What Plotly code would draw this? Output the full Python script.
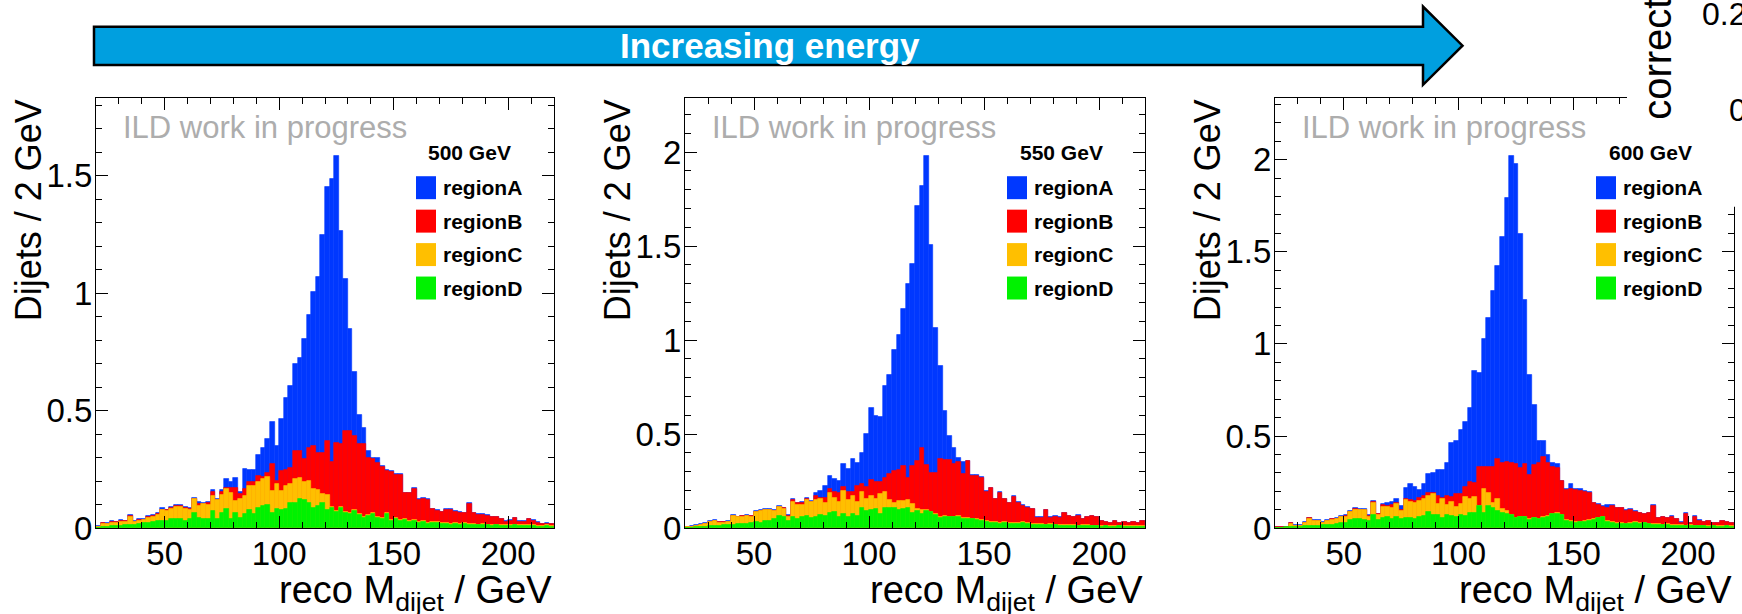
import plotly.graph_objects as go

W, H_REF = 1742, 614      # size of the reference picture
FIG_H = 632               # page height used by the viewer (it is rescaled to 614)
FONT = "Liberation Sans, Arial, Helvetica, sans-serif"

# ---------------- data (stacked tops, 2 GeV bins from 20 to 220) -------------
bin_centers = list(range(21, 220, 2))
energies = ["500 GeV", "550 GeV", "600 GeV"]
regions = ["regionA", "regionB", "regionC", "regionD"]
region_colors = ["#0038ff", "#ff0000", "#ffbf00", "#00f200"]

# 500 GeV: top of each stacked layer (A = total, B = D+C+B, C = D+C, D)
top_A_500 = [0.008, 0.024, 0.022, 0.030, 0.028, 0.037, 0.033, 0.055, 0.030, 0.040,
             0.040, 0.052, 0.058, 0.065, 0.085, 0.080, 0.090, 0.098, 0.098, 0.092,
             0.085, 0.130, 0.113, 0.108, 0.110, 0.162, 0.125, 0.162, 0.208, 0.197,
             0.215, 0.154, 0.251, 0.247, 0.248, 0.310, 0.340, 0.378, 0.452, 0.351,
             0.466, 0.554, 0.607, 0.701, 0.725, 0.806, 0.906, 1.007, 1.068, 1.246,
             1.451, 1.487, 1.585, 1.265, 1.062, 0.850, 0.666, 0.484, 0.428, 0.329,
             0.300, 0.300, 0.265, 0.250, 0.244, 0.232, 0.229, 0.152, 0.152, 0.170,
             0.123, 0.127, 0.123, 0.084, 0.076, 0.071, 0.081, 0.081, 0.074, 0.069,
             0.067, 0.106, 0.067, 0.059, 0.060, 0.055, 0.050, 0.050, 0.040, 0.030,
             0.035, 0.045, 0.030, 0.030, 0.040, 0.035, 0.025, 0.020, 0.022, 0.020]
top_B_500 = [0.006, 0.022, 0.020, 0.027, 0.025, 0.032, 0.030, 0.052, 0.027, 0.036,
             0.037, 0.048, 0.054, 0.061, 0.080, 0.076, 0.086, 0.094, 0.094, 0.087,
             0.081, 0.126, 0.105, 0.104, 0.106, 0.154, 0.120, 0.154, 0.173, 0.173,
             0.170, 0.147, 0.166, 0.197, 0.197, 0.222, 0.218, 0.234, 0.275, 0.200,
             0.242, 0.249, 0.258, 0.330, 0.327, 0.295, 0.340, 0.350, 0.319, 0.320,
             0.371, 0.283, 0.362, 0.357, 0.414, 0.414, 0.392, 0.360, 0.357, 0.300,
             0.296, 0.279, 0.262, 0.245, 0.238, 0.228, 0.225, 0.149, 0.149, 0.167,
             0.120, 0.124, 0.120, 0.081, 0.073, 0.068, 0.078, 0.078, 0.071, 0.066,
             0.064, 0.103, 0.064, 0.056, 0.058, 0.053, 0.048, 0.048, 0.038, 0.028,
             0.033, 0.043, 0.028, 0.028, 0.038, 0.033, 0.023, 0.018, 0.020, 0.018]
top_C_500 = [0.005, 0.020, 0.019, 0.024, 0.023, 0.027, 0.027, 0.050, 0.025, 0.030,
             0.034, 0.045, 0.050, 0.058, 0.077, 0.073, 0.083, 0.090, 0.090, 0.083,
             0.079, 0.123, 0.095, 0.102, 0.100, 0.137, 0.119, 0.143, 0.166, 0.152,
             0.116, 0.123, 0.137, 0.180, 0.180, 0.197, 0.208, 0.220, 0.159, 0.187,
             0.159, 0.180, 0.187, 0.208, 0.215, 0.197, 0.201, 0.169, 0.163, 0.144,
             0.140, 0.092, 0.073, 0.092, 0.070, 0.063, 0.078, 0.059, 0.049, 0.056,
             0.063, 0.049, 0.042, 0.063, 0.035, 0.045, 0.035, 0.038, 0.032, 0.034,
             0.026, 0.029, 0.024, 0.028, 0.026, 0.022, 0.024, 0.019, 0.022, 0.020,
             0.022, 0.019, 0.018, 0.016, 0.018, 0.016, 0.014, 0.016, 0.014, 0.013,
             0.014, 0.016, 0.012, 0.014, 0.013, 0.012, 0.011, 0.010, 0.012, 0.010]
top_D_500 = [0.003, 0.005, 0.006, 0.008, 0.008, 0.010, 0.012, 0.015, 0.013, 0.018,
             0.022, 0.024, 0.025, 0.030, 0.032, 0.031, 0.038, 0.038, 0.040, 0.030,
             0.038, 0.067, 0.045, 0.038, 0.040, 0.074, 0.038, 0.066, 0.084, 0.038,
             0.066, 0.045, 0.059, 0.078, 0.059, 0.088, 0.095, 0.098, 0.066, 0.084,
             0.078, 0.084, 0.106, 0.109, 0.123, 0.119, 0.109, 0.088, 0.095, 0.106,
             0.078, 0.088, 0.069, 0.088, 0.066, 0.059, 0.074, 0.055, 0.045, 0.052,
             0.059, 0.045, 0.038, 0.059, 0.031, 0.041, 0.031, 0.034, 0.028, 0.030,
             0.022, 0.025, 0.020, 0.024, 0.022, 0.018, 0.020, 0.015, 0.018, 0.016,
             0.018, 0.015, 0.014, 0.012, 0.014, 0.012, 0.010, 0.012, 0.010, 0.009,
             0.010, 0.012, 0.008, 0.010, 0.009, 0.008, 0.007, 0.006, 0.008, 0.006]

# 550 GeV
top_A_550 = [0.008, 0.010, 0.016, 0.021, 0.027, 0.039, 0.044, 0.034, 0.034, 0.039,
             0.069, 0.062, 0.066, 0.069, 0.066, 0.092, 0.096, 0.101, 0.101, 0.096,
             0.118, 0.110, 0.069, 0.154, 0.136, 0.140, 0.163, 0.145, 0.189, 0.198,
             0.225, 0.278, 0.260, 0.251, 0.340, 0.313, 0.366, 0.349, 0.400, 0.504,
             0.640, 0.596, 0.593, 0.759, 0.814, 0.950, 1.026, 1.168, 1.300, 1.407,
             1.714, 1.820, 1.982, 1.507, 1.065, 0.862, 0.623, 0.490, 0.425, 0.375,
             0.352, 0.360, 0.282, 0.282, 0.273, 0.197, 0.216, 0.158, 0.194, 0.158,
             0.137, 0.172, 0.140, 0.123, 0.114, 0.105, 0.060, 0.060, 0.098, 0.060,
             0.063, 0.058, 0.083, 0.066, 0.060, 0.070, 0.050, 0.060, 0.065, 0.060,
             0.040, 0.035, 0.030, 0.040, 0.030, 0.035, 0.030, 0.035, 0.030, 0.040]
top_B_550 = [0.005, 0.007, 0.013, 0.018, 0.024, 0.036, 0.041, 0.031, 0.031, 0.036,
             0.066, 0.059, 0.063, 0.066, 0.063, 0.089, 0.093, 0.098, 0.098, 0.093,
             0.115, 0.107, 0.066, 0.149, 0.133, 0.133, 0.158, 0.142, 0.172, 0.160,
             0.163, 0.210, 0.195, 0.190, 0.221, 0.195, 0.195, 0.225, 0.234, 0.219,
             0.255, 0.246, 0.246, 0.265, 0.287, 0.304, 0.308, 0.331, 0.269, 0.331,
             0.357, 0.425, 0.334, 0.295, 0.295, 0.370, 0.365, 0.361, 0.340, 0.350,
             0.288, 0.357, 0.278, 0.278, 0.269, 0.193, 0.212, 0.154, 0.190, 0.154,
             0.133, 0.168, 0.136, 0.119, 0.110, 0.101, 0.057, 0.057, 0.095, 0.057,
             0.060, 0.055, 0.080, 0.063, 0.058, 0.068, 0.048, 0.058, 0.063, 0.058,
             0.038, 0.033, 0.028, 0.038, 0.028, 0.033, 0.028, 0.033, 0.028, 0.038]
top_C_550 = [0.005, 0.008, 0.013, 0.018, 0.024, 0.035, 0.040, 0.030, 0.030, 0.035,
             0.064, 0.058, 0.062, 0.064, 0.060, 0.086, 0.090, 0.095, 0.095, 0.090,
             0.111, 0.103, 0.062, 0.140, 0.124, 0.124, 0.150, 0.138, 0.149, 0.156,
             0.136, 0.188, 0.160, 0.138, 0.196, 0.150, 0.173, 0.138, 0.191, 0.154,
             0.173, 0.154, 0.182, 0.191, 0.150, 0.136, 0.147, 0.147, 0.150, 0.130,
             0.100, 0.095, 0.096, 0.089, 0.075, 0.059, 0.066, 0.062, 0.062, 0.066,
             0.054, 0.056, 0.052, 0.049, 0.044, 0.039, 0.034, 0.032, 0.029, 0.034,
             0.029, 0.026, 0.029, 0.032, 0.027, 0.022, 0.024, 0.022, 0.019, 0.021,
             0.019, 0.016, 0.017, 0.016, 0.016, 0.014, 0.016, 0.015, 0.014, 0.014,
             0.013, 0.014, 0.012, 0.013, 0.014, 0.012, 0.011, 0.012, 0.010, 0.012]
top_D_550 = [0.002, 0.004, 0.006, 0.006, 0.008, 0.010, 0.012, 0.012, 0.016, 0.018,
             0.020, 0.022, 0.022, 0.025, 0.028, 0.035, 0.030, 0.038, 0.040, 0.048,
             0.064, 0.058, 0.040, 0.058, 0.050, 0.060, 0.066, 0.055, 0.062, 0.071,
             0.066, 0.080, 0.088, 0.062, 0.075, 0.060, 0.078, 0.064, 0.106, 0.092,
             0.099, 0.103, 0.075, 0.108, 0.106, 0.110, 0.097, 0.101, 0.106, 0.080,
             0.092, 0.078, 0.092, 0.085, 0.071, 0.055, 0.062, 0.058, 0.058, 0.062,
             0.050, 0.052, 0.048, 0.045, 0.040, 0.035, 0.030, 0.028, 0.025, 0.030,
             0.025, 0.022, 0.025, 0.028, 0.023, 0.018, 0.020, 0.018, 0.015, 0.017,
             0.015, 0.012, 0.013, 0.012, 0.012, 0.010, 0.012, 0.011, 0.010, 0.010,
             0.009, 0.010, 0.008, 0.009, 0.010, 0.008, 0.007, 0.008, 0.006, 0.008]

# 600 GeV
top_A_600 = [0.009, 0.009, 0.009, 0.030, 0.018, 0.018, 0.034, 0.058, 0.043, 0.043,
             0.034, 0.043, 0.052, 0.054, 0.067, 0.070, 0.094, 0.108, 0.103, 0.103,
             0.070, 0.146, 0.079, 0.130, 0.135, 0.144, 0.157, 0.121, 0.217, 0.242,
             0.225, 0.206, 0.242, 0.292, 0.301, 0.319, 0.319, 0.356, 0.464, 0.473,
             0.536, 0.576, 0.653, 0.852, 0.843, 1.029, 1.139, 1.289, 1.425, 1.580,
             1.795, 2.022, 1.977, 1.596, 1.237, 0.833, 0.670, 0.473, 0.473, 0.400,
             0.356, 0.350, 0.256, 0.211, 0.242, 0.211, 0.215, 0.202, 0.197, 0.139,
             0.130, 0.121, 0.125, 0.125, 0.112, 0.112, 0.099, 0.103, 0.094, 0.085,
             0.079, 0.085, 0.125, 0.058, 0.063, 0.058, 0.067, 0.052, 0.034, 0.081,
             0.031, 0.067, 0.045, 0.035, 0.040, 0.030, 0.030, 0.040, 0.035, 0.030]
top_B_600 = [0.006, 0.006, 0.006, 0.027, 0.015, 0.015, 0.031, 0.055, 0.040, 0.040,
             0.031, 0.040, 0.049, 0.051, 0.064, 0.067, 0.091, 0.105, 0.100, 0.100,
             0.067, 0.143, 0.076, 0.125, 0.121, 0.125, 0.139, 0.097, 0.157, 0.153,
             0.148, 0.162, 0.175, 0.190, 0.193, 0.175, 0.162, 0.175, 0.170, 0.188,
             0.185, 0.224, 0.251, 0.247, 0.332, 0.332, 0.332, 0.332, 0.374, 0.356,
             0.361, 0.356, 0.350, 0.329, 0.347, 0.289, 0.343, 0.356, 0.388, 0.356,
             0.332, 0.329, 0.256, 0.208, 0.215, 0.208, 0.202, 0.197, 0.190, 0.136,
             0.127, 0.118, 0.112, 0.122, 0.109, 0.109, 0.096, 0.099, 0.091, 0.082,
             0.076, 0.082, 0.122, 0.055, 0.060, 0.055, 0.064, 0.049, 0.031, 0.078,
             0.028, 0.064, 0.042, 0.032, 0.037, 0.027, 0.027, 0.037, 0.032, 0.027]
top_C_600 = [0.004, 0.004, 0.004, 0.024, 0.012, 0.012, 0.028, 0.052, 0.037, 0.037,
             0.028, 0.037, 0.046, 0.048, 0.061, 0.064, 0.088, 0.102, 0.097, 0.097,
             0.064, 0.140, 0.073, 0.115, 0.115, 0.112, 0.134, 0.094, 0.152, 0.144,
             0.135, 0.148, 0.161, 0.175, 0.184, 0.130, 0.157, 0.125, 0.144, 0.117,
             0.130, 0.170, 0.160, 0.170, 0.121, 0.215, 0.190, 0.135, 0.160, 0.103,
             0.095, 0.073, 0.058, 0.063, 0.063, 0.048, 0.058, 0.053, 0.061, 0.067,
             0.078, 0.083, 0.073, 0.043, 0.038, 0.033, 0.035, 0.037, 0.043, 0.048,
             0.058, 0.063, 0.038, 0.033, 0.029, 0.028, 0.025, 0.028, 0.033, 0.028,
             0.031, 0.025, 0.021, 0.023, 0.019, 0.021, 0.018, 0.017, 0.016, 0.015,
             0.017, 0.013, 0.015, 0.013, 0.012, 0.014, 0.011, 0.012, 0.013, 0.011]
top_D_600 = [0.004, 0.004, 0.005, 0.006, 0.006, 0.008, 0.010, 0.012, 0.012, 0.014,
             0.016, 0.018, 0.020, 0.022, 0.028, 0.030, 0.045, 0.052, 0.048, 0.045,
             0.040, 0.070, 0.045, 0.058, 0.060, 0.052, 0.060, 0.050, 0.058, 0.055,
             0.052, 0.064, 0.066, 0.090, 0.070, 0.070, 0.055, 0.072, 0.068, 0.060,
             0.072, 0.068, 0.081, 0.084, 0.119, 0.085, 0.119, 0.110, 0.094, 0.081,
             0.075, 0.070, 0.055, 0.060, 0.060, 0.045, 0.055, 0.050, 0.058, 0.064,
             0.075, 0.080, 0.070, 0.040, 0.035, 0.030, 0.032, 0.034, 0.040, 0.045,
             0.055, 0.060, 0.035, 0.030, 0.026, 0.025, 0.022, 0.025, 0.030, 0.025,
             0.028, 0.022, 0.018, 0.020, 0.016, 0.018, 0.015, 0.014, 0.013, 0.012,
             0.014, 0.010, 0.012, 0.010, 0.009, 0.011, 0.008, 0.009, 0.010, 0.008]

stack_tops = [
    [top_A_500, top_B_500, top_C_500, top_D_500],
    [top_A_550, top_B_550, top_C_550, top_D_550],
    [top_A_600, top_B_600, top_C_600, top_D_600],
]
y_max = [1.831, 2.288, 2.335]
x_ticks = [50, 100, 150, 200]

# ---------------- layout helpers (reference pixel -> paper) ----------------
def px(x):
    return x / W

def py(y):
    return 1 - y / H_REF

panel_lr = [(96, 554), (685, 1145), (1275, 1734)]
plot_top, plot_bottom = 98, 529

fig = go.Figure()
shapes = []
annotations = []

for p in range(3):
    xa = "x" if p == 0 else f"x{p+1}"
    ya = "y" if p == 0 else f"y{p+1}"
    for r in range(4):
        col = region_colors[r]
        fig.add_trace(go.Bar(
            x=bin_centers, y=stack_tops[p][r], width=2,
            marker=dict(color=col, line=dict(color=col, width=0.6)),
            name=regions[r], showlegend=False, xaxis=xa, yaxis=ya,
            hoverinfo="skip"))

    left, right = panel_lr[p]
    axis_common = dict(showline=True, linecolor="black", linewidth=1, mirror="ticks",
                       ticks="inside", tickcolor="black", tickwidth=1, ticklen=12,
                       showgrid=False, zeroline=False, ticklabelstandoff=-4,
                       tickfont=dict(family=FONT, size=33, color="black"))
    fig.layout[f"xaxis{'' if p == 0 else p+1}"] = dict(
        domain=[px(left), px(right)], anchor=ya, range=[20, 220],
        tickvals=x_ticks,
        minor=dict(ticks="inside", ticklen=6, dtick=10, tick0=0, tickcolor="black"),
        **axis_common)
    fig.layout[f"yaxis{'' if p == 0 else p+1}"] = dict(
        domain=[py(plot_bottom), py(plot_top)], anchor=xa, range=[0, y_max[p]],
        dtick=0.5, tick0=0,
        minor=dict(ticks="inside", ticklen=6, dtick=0.1, tick0=0, tickcolor="black"),
        **axis_common)

    # watermark
    annotations.append(dict(x=px(left + 25), y=py(128), xref="paper", yref="paper",
                            text="ILD work in progress", showarrow=False,
                            xanchor="left", yanchor="middle",
                            font=dict(family=FONT, size=31, color="#adadad")))
    # legend header
    annotations.append(dict(x=px(right - 84), y=py(153), xref="paper", yref="paper",
                            text=f"<b>{energies[p]}</b>", showarrow=False,
                            xanchor="center", yanchor="middle",
                            font=dict(family=FONT, size=21, color="black")))
    rows = [188, 221.5, 255, 288.5]
    for r in range(4):
        shapes.append(dict(type="rect", xref="paper", yref="paper",
                           x0=px(right - 138), x1=px(right - 118),
                           y0=py(rows[r] + 11.5), y1=py(rows[r] - 11.5),
                           fillcolor=region_colors[r], line=dict(width=0), layer="above"))
        annotations.append(dict(x=px(right - 113), y=py(rows[r]), xref="paper", yref="paper",
                                text=f"<b>{regions[r]}</b>", showarrow=False,
                                xanchor="left", yanchor="middle",
                                font=dict(family=FONT, size=21, color="black")))
    # axis titles
    annotations.append(dict(x=px(left - 67.5), y=py(plot_top), xref="paper", yref="paper",
                            text="Dijets / 2 GeV", showarrow=False, textangle=-90,
                            xanchor="center", yanchor="top",
                            font=dict(family=FONT, size=36, color="black")))
    annotations.append(dict(x=px(right), y=py(568), xref="paper", yref="paper",
                            text="reco M<sub>dijet</sub> / GeV", showarrow=False,
                            xanchor="right", yanchor="top",
                            font=dict(family=FONT, size=38, color="black")))

# big arrow
pts = [(94, 26.7), (1423, 26.7), (1423, 6.5), (1462.5, 45.8), (1423, 85), (1423, 65), (94, 65)]
path = "M " + " L ".join(f"{px(x):.5f},{py(y):.5f}" for x, y in pts) + " Z"
shapes.append(dict(type="path", path=path, xref="paper", yref="paper",
                   fillcolor="#009fdf", line=dict(color="black", width=2.5), layer="above"))
annotations.append(dict(x=px(770), y=py(45.5), xref="paper", yref="paper",
                        text="<b>Increasing energy</b>", showarrow=False,
                        xanchor="center", yanchor="middle",
                        font=dict(family=FONT, size=35, color="white")))

# pieces of the neighbouring chart overlapping the top-right corner
shapes.append(dict(type="rect", xref="paper", yref="paper", x0=px(1627), x1=px(1745),
                   y0=py(130), y1=py(-2), fillcolor="white", line=dict(width=0), layer="above"))
shapes.append(dict(type="rect", xref="paper", yref="paper", x0=px(1716), x1=px(1745),
                   y0=py(207), y1=py(-2), fillcolor="white", line=dict(width=0), layer="above"))
annotations.append(dict(x=px(1657), y=py(122), xref="paper", yref="paper",
                        text="correct", showarrow=False, textangle=-90,
                        xanchor="center", yanchor="bottom",
                        font=dict(family=FONT, size=40, color="black")))
annotations.append(dict(x=px(1700), y=py(14), xref="paper", yref="paper",
                        text="0.2", showarrow=False, xanchor="left", yanchor="middle",
                        font=dict(family=FONT, size=32, color="black")))
annotations.append(dict(x=px(1727), y=py(110), xref="paper", yref="paper",
                        text="0", showarrow=False, xanchor="left", yanchor="middle",
                        font=dict(family=FONT, size=32, color="black")))

fig.update_layout(width=W, height=FIG_H, autosize=False,
                  margin=dict(l=0, r=0, t=0, b=0, pad=0),
                  paper_bgcolor="white", plot_bgcolor="white",
                  barmode="overlay", bargap=0, showlegend=False,
                  shapes=shapes, annotations=annotations,
                  font=dict(family=FONT))

page_fix = """
(function(){
  var de = document.documentElement, b = document.body;
  [de, b].forEach(function(e){ e.style.margin='0'; e.style.padding='0';
                               e.style.overflow='hidden'; });
})();
"""
fig.write_html("out.html", config={"displayModeBar": False, "responsive": False},
               post_script=page_fix)
